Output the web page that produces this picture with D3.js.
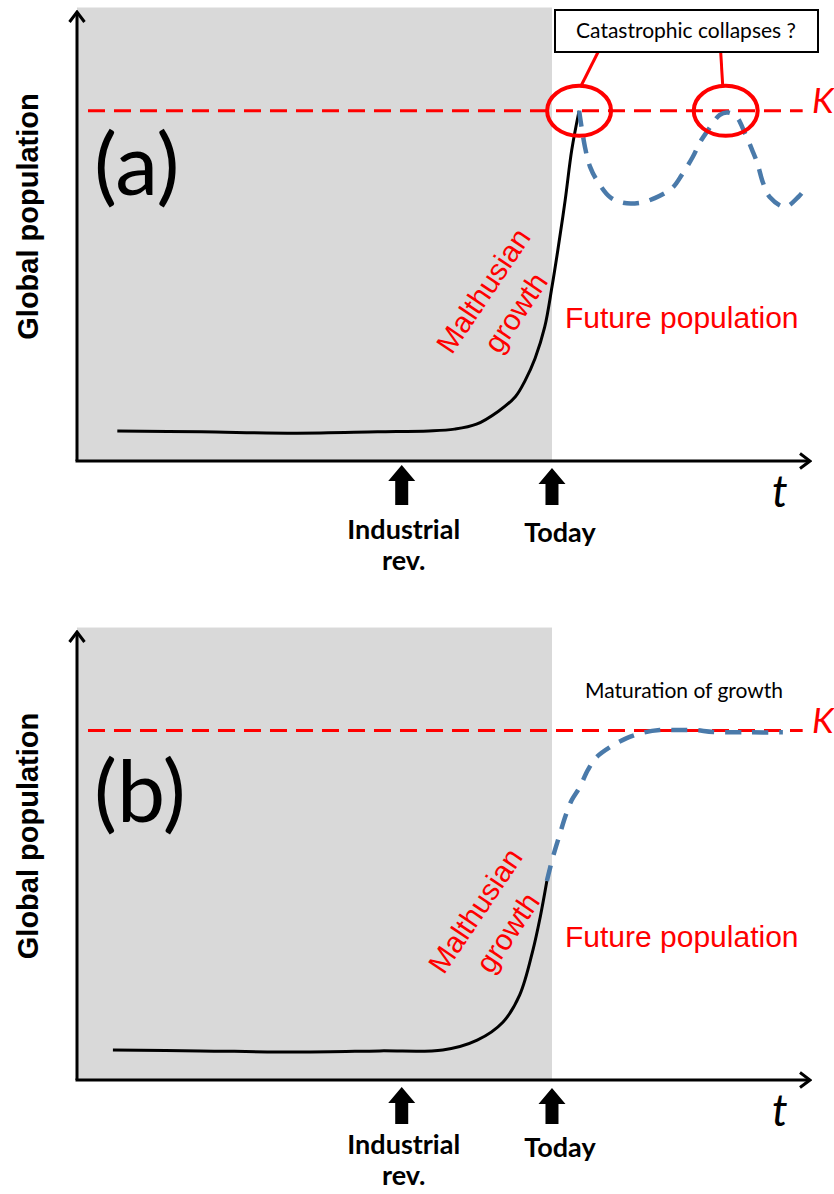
<!DOCTYPE html>
<html><head><meta charset="utf-8">
<script src="https://cdn.jsdelivr.net/npm/d3@7/dist/d3.min.js"></script>
<style>body{margin:0;background:#fff}svg{display:block}</style>
</head><body>
<script>
// ---------- data (time 0..100, population 0..100) ----------
const pastTimeA = [5.5, 17, 30, 41, 48, 51.5, 54.5, 57.5, 59.8, 61.1, 62.5, 63.8, 64.8, 65.6, 66.6, 67.5, 68.5];
const pastPopA  = [6.7, 6.5, 6.2, 6.5, 6.7, 7.1, 8.2, 11.1, 14.3, 17.8, 22.9, 29.8, 38.8, 47, 58.1, 69.3, 78];
const futureTimeA = [68.5, 69.3, 70.0, 70.9, 72.7, 74.5, 76.8, 78.9, 81.2, 82.5, 84.0, 85.0, 86.1, 87.7, 88.8, 90.0, 91.1, 92.1, 92.8, 93.6, 94.5, 96.6, 98.4, 99.0];
const futurePopA  = [78, 69.9, 65.5, 62.6, 58.8, 57.5, 57.5, 58.6, 60.8, 63.7, 67.7, 71.0, 73.7, 77.1, 77.6, 76.6, 73.1, 69.3, 66.4, 61.9, 58.8, 56.6, 58.8, 59.9];

const pastTimeB = [4.9, 16.8, 30.4, 41.3, 49.9, 54.6, 58.1, 60.4, 62.2, 63.2, 64.1];
const pastPopB  = [6.7, 6.5, 6.25, 6.5, 6.7, 8.9, 12.9, 19.0, 29.0, 36.4, 44.4];
const futureTimeB = [64.1, 64.9, 65.8, 66.7, 67.5, 68.6, 69.7, 70.9, 72.7, 75.0, 77.2, 79.5, 81.9, 84.3, 86.8, 91.8, 96.3];
const futurePopB  = [44.4, 49.6, 54.5, 59.2, 62.5, 65.4, 69.2, 72.1, 74.3, 76.3, 77.5, 78.1, 78.1, 78.1, 77.7, 77.6, 77.6];

const carryingCapacity = 78;
const kLineSpan = [1.5, 99];
const eventTimes = [44.3, 64.8];           // Industrial rev., Today
const eventLabels = [["Industrial", "rev."], ["Today"]];
const collapseTimes = [68.5, 88.5];
const panelLetters = ["(a)", "(b)"];

// ---------- drawing ----------
const W = 834, H = 1194;
const svg = d3.select("body").append("svg").attr("width", W).attr("height", H);

const RED = "#ff0000", BLUE = "#4a7aaa", GRAY = "#d9d9d9";
const x = d3.scaleLinear().domain([0, 100]).range([77, 810]);

const defs = svg.append("defs");
defs.append("marker").attr("id", "open").attr("viewBox", "-12 -9 14 18")
  .attr("markerWidth", 14).attr("markerHeight", 18).attr("refX", 0).attr("refY", 0)
  .attr("orient", "auto").attr("markerUnits", "userSpaceOnUse")
  .append("path").attr("d", "M-10,-7.5L0,0L-10,7.5").attr("fill", "none")
  .attr("stroke", "#000").attr("stroke-width", 3);

const panels = [
  {yRange: [461, 12], past: [pastTimeA, pastPopA], fut: [futureTimeA, futurePopA], collapse: true,
   letter: {x: 94, y: 195}, arrowDY: [4, 7], labelY: 539, mal: {x: 500, y: 302}},
  {yRange: [1080, 632], past: [pastTimeB, pastPopB], fut: [futureTimeB, futurePopB], collapse: false,
   letter: {x: 94, y: 822}, arrowDY: [7, 8], labelY: 1154, mal: {x: 492, y: 922}}
];

panels.forEach((p, i) => {
  const y = d3.scaleLinear().domain([0, 100]).range(p.yRange);
  const g = svg.append("g");
  const line = d3.line().x(d => x(d[0])).y(d => y(d[1])).curve(d3.curveCatmullRom.alpha(0.5));

  // shaded past
  g.append("rect").attr("x", x(0)).attr("y", y(101))
    .attr("width", x(eventTimes[1]) - x(0)).attr("height", y(0) - y(101)).attr("fill", GRAY);

  // axes
  g.append("line").attr("x1", x(0)).attr("y1", y(0)).attr("x2", x(0)).attr("y2", y(100))
    .attr("stroke", "#000").attr("stroke-width", 3).attr("marker-end", "url(#open)");
  g.append("line").attr("x1", x(0) - 1.5).attr("y1", y(0)).attr("x2", x(100)).attr("y2", y(0))
    .attr("stroke", "#000").attr("stroke-width", 3).attr("marker-end", "url(#open)");

  // K line
  g.append("line").attr("x1", x(kLineSpan[0])).attr("x2", x(kLineSpan[1]))
    .attr("y1", y(carryingCapacity)).attr("y2", y(carryingCapacity))
    .attr("stroke", RED).attr("stroke-width", 3).attr("stroke-dasharray", "17,9");
  g.append("text").attr("x", 812).attr("y", y(carryingCapacity) + 2)
    .attr("font-family", "Lato").attr("font-style", "italic").attr("font-size", 35)
    .attr("fill", RED).text("K");

  // past population
  const pastData = p.past[0].map((t, j) => [t, p.past[1][j]]);
  g.append("path").attr("d", line(pastData)).attr("fill", "none")
    .attr("stroke", "#000").attr("stroke-width", 3);

  // future population
  const futData = p.fut[0].map((t, j) => [t, p.fut[1][j]]);
  g.append("path").attr("d", line(futData)).attr("fill", "none")
    .attr("stroke", BLUE).attr("stroke-width", 4.5).attr("stroke-dasharray", "16,11");

  // panel letter
  g.append("text").attr("x", p.letter.x).attr("y", p.letter.y)
    .attr("font-family", "Lato").attr("font-size", 86).attr("fill", "#000").text(panelLetters[i]);

  // y label
  g.append("text").attr("transform", `translate(38,${(y(0) + y(100)) / 2 - 20}) rotate(-90)`)
    .attr("text-anchor", "middle").attr("font-family", "Liberation Sans").attr("font-weight", "bold")
    .attr("font-size", 29).text("Global population");

  // t label
  g.append("text").attr("x", 772).attr("y", y(0) + 46)
    .attr("font-family", "Lato").attr("font-style", "italic").attr("font-size", 44).text("t");

  // event arrows + labels
  eventTimes.forEach((t, k) => {
    const cx = x(t), tip = y(0) + p.arrowDY[k], bot = y(0) + 44;
    const hw = 13.5, hh = 16, sw = 6.5;
    g.append("path").attr("d",
      `M${cx},${tip}L${cx + hw},${tip + hh}L${cx + sw},${tip + hh}L${cx + sw},${bot}L${cx - sw},${bot}L${cx - sw},${tip + hh}L${cx - hw},${tip + hh}Z`)
      .attr("fill", "#000");
    const tx = g.append("text").attr("text-anchor", "middle")
      .attr("font-family", "Lato").attr("font-weight", "bold").attr("font-size", 27);
    eventLabels[k].forEach((s, m) => {
      tx.append("tspan").attr("x", cx + (k === 0 ? 2 : 8)).attr("y", p.labelY + (k === 1 ? 3 : 0) + m * 31).text(s);
    });
  });

  // Future population
  g.append("text").attr("x", 565).attr("y", y(29.7)).attr("font-family", "Liberation Sans")
    .attr("font-size", 30).attr("fill", RED).text("Future population");

  // Malthusian growth
  const mg = g.append("g").attr("transform", `translate(${p.mal.x},${p.mal.y}) rotate(-56)`);
  mg.append("text").attr("text-anchor", "middle").attr("y", -10).attr("font-family", "Liberation Sans")
    .attr("font-size", 29.5).attr("fill", RED).text("Malthusian");
  mg.append("text").attr("text-anchor", "middle").attr("y", 29).attr("font-family", "Liberation Sans")
    .attr("font-size", 29.5).attr("fill", RED).text("growth");

  if (p.collapse) {
    const rx = 32, ry = 25, cy = y(carryingCapacity);
    collapseTimes.forEach(t => {
      g.append("ellipse").attr("cx", x(t)).attr("cy", cy).attr("rx", rx).attr("ry", ry)
        .attr("fill", "none").attr("stroke", RED).attr("stroke-width", 4);
    });
    g.append("line").attr("x1", x(collapseTimes[0]) + 19).attr("y1", 52)
      .attr("x2", x(collapseTimes[0]) + 2).attr("y2", cy - ry).attr("stroke", RED).attr("stroke-width", 3);
    g.append("line").attr("x1", x(collapseTimes[1]) - 5).attr("y1", 52)
      .attr("x2", x(collapseTimes[1]) - 3).attr("y2", cy - ry).attr("stroke", RED).attr("stroke-width", 3);
    g.append("rect").attr("x", 555).attr("y", 10).attr("width", 263).attr("height", 42)
      .attr("fill", "#fff").attr("stroke", "#000").attr("stroke-width", 2);
    g.append("text").attr("x", 686).attr("y", 38).attr("text-anchor", "middle")
      .attr("font-family", "Lato").attr("font-size", 21).text("Catastrophic collapses ?");
  } else {
    g.append("text").attr("x", 684).attr("y", 698).attr("text-anchor", "middle")
      .attr("font-family", "Lato").attr("font-size", 21).text("Maturation of growth");
  }
});
</script>
</body></html>
